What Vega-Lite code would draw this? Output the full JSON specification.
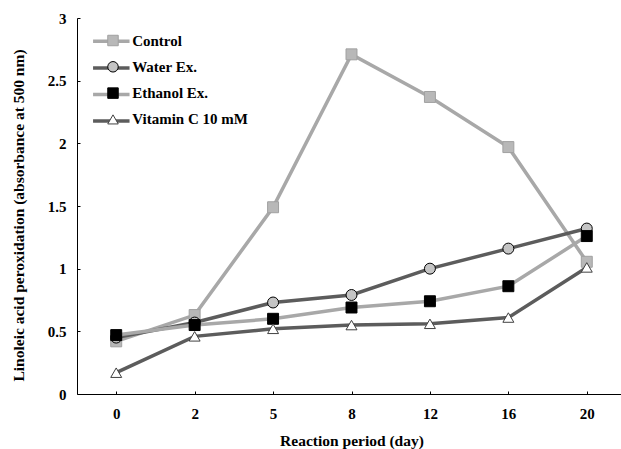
{
  "$schema": "https://vega.github.io/schema/vega-lite/v6.json",
  "width": 549,
  "height": 376,
  "autosize": "none",
  "padding": {"left": 77, "top": 18, "right": -5, "bottom": 55},
  "background": "white",
  "config": {
    "view": {"stroke": null},
    "font": "Liberation Serif",
    "axis": {"grid": false, "domainColor": "black", "tickColor": "black", "labelColor": "black", "titleColor": "black", "labelFont": "Liberation Serif", "titleFont": "Liberation Serif", "labelFontWeight": "bold", "titleFontWeight": "bold", "labelFontSize": 15, "titleFontSize": 15.5, "domainWidth": 1, "tickWidth": 1},
    "legend": {"padding": 0, "labelFont": "Liberation Serif", "labelFontWeight": "bold", "labelFontSize": 15, "labelColor": "black"}
  },
  "data": {
    "values": [
      {"day": "0", "series": "Control", "value": 0.42},
      {"day": "2", "series": "Control", "value": 0.63},
      {"day": "5", "series": "Control", "value": 1.49},
      {"day": "8", "series": "Control", "value": 2.71},
      {"day": "12", "series": "Control", "value": 2.37},
      {"day": "16", "series": "Control", "value": 1.97},
      {"day": "20", "series": "Control", "value": 1.055},
      {"day": "0", "series": "Water Ex.", "value": 0.45},
      {"day": "2", "series": "Water Ex.", "value": 0.57},
      {"day": "5", "series": "Water Ex.", "value": 0.73},
      {"day": "8", "series": "Water Ex.", "value": 0.79},
      {"day": "12", "series": "Water Ex.", "value": 1.0},
      {"day": "16", "series": "Water Ex.", "value": 1.16},
      {"day": "20", "series": "Water Ex.", "value": 1.32},
      {"day": "0", "series": "Ethanol Ex.", "value": 0.47},
      {"day": "2", "series": "Ethanol Ex.", "value": 0.55},
      {"day": "5", "series": "Ethanol Ex.", "value": 0.6},
      {"day": "8", "series": "Ethanol Ex.", "value": 0.69},
      {"day": "12", "series": "Ethanol Ex.", "value": 0.74},
      {"day": "16", "series": "Ethanol Ex.", "value": 0.86},
      {"day": "20", "series": "Ethanol Ex.", "value": 1.26},
      {"day": "0", "series": "Vitamin C 10 mM", "value": 0.17},
      {"day": "2", "series": "Vitamin C 10 mM", "value": 0.46},
      {"day": "5", "series": "Vitamin C 10 mM", "value": 0.52},
      {"day": "8", "series": "Vitamin C 10 mM", "value": 0.55},
      {"day": "12", "series": "Vitamin C 10 mM", "value": 0.56},
      {"day": "16", "series": "Vitamin C 10 mM", "value": 0.61},
      {"day": "20", "series": "Vitamin C 10 mM", "value": 1.01}
    ]
  },
  "encoding": {
    "x": {"field": "day", "type": "ordinal", "sort": ["0", "2", "5", "8", "12", "16", "20"], "scale": {"type": "point", "padding": 0.5}, "axis": {"title": "Reaction period (day)", "labelAngle": 0, "tickSize": -3, "labelPadding": 15, "titlePadding": 12}},
    "y": {"field": "value", "type": "quantitative", "scale": {"domain": [0, 3], "nice": false}, "axis": {"title": "Linoleic acid peroxidation (absorbance at 500 nm)", "values": [0, 0.5, 1, 1.5, 2, 2.5, 3], "format": "~g", "tickSize": -3, "labelPadding": 14, "titlePadding": 21, "titleY": 197}}
  },
  "layer": [
    {
      "mark": {"type": "line", "strokeWidth": 3.5},
      "encoding": {
        "color": {"field": "series", "type": "nominal",
          "sort": ["Control", "Water Ex.", "Ethanol Ex.", "Vitamin C 10 mM"],
          "scale": {"range": ["#a8a8a8", "#5c5c5c", "#a8a8a8", "#5c5c5c"]},
          "legend": {"title": null, "orient": "none", "legendX": 20.3, "legendY": 9.3, "symbolType": "M-1.52,0H1.52", "symbolSize": 576, "symbolStrokeWidth": 3.5, "symbolFillColor": "transparent", "labelColor": "transparent", "rowPadding": 4.6, "labelOffset": 2}}
      }
    },
    {
      "mark": {"type": "point", "filled": true, "opacity": 1, "strokeWidth": 1, "size": 120},
      "encoding": {
        "fill": {"field": "series", "type": "nominal",
          "scale": {"domain": ["Control", "Water Ex.", "Ethanol Ex.", "Vitamin C 10 mM"], "range": ["#b8b8b8", "#c4c4c4", "#000000", "#ffffff"]},
          "legend": {"title": null, "orient": "top-left", "offset": 15.3, "symbolOffset": 13.5, "labelOffset": 11.7, "rowPadding": 10.3, "symbolSize": 110, "symbolStrokeWidth": 1, "symbolOpacity": 1}},
        "stroke": {"field": "series", "type": "nominal",
          "scale": {"domain": ["Control", "Water Ex.", "Ethanol Ex.", "Vitamin C 10 mM"], "range": ["#a0a0a0", "#000000", "#000000", "#404040"]},
          "legend": {"title": null, "orient": "top-left", "offset": 15.3, "symbolOffset": 13.5, "labelOffset": 11.7, "rowPadding": 10.3, "symbolSize": 110, "symbolStrokeWidth": 1, "symbolOpacity": 1}},
        "shape": {"field": "series", "type": "nominal",
          "scale": {"domain": ["Control", "Water Ex.", "Ethanol Ex.", "Vitamin C 10 mM"], "range": ["square", "circle", "square", "triangle-up"]},
          "legend": {"title": null, "orient": "top-left", "offset": 15.3, "symbolOffset": 13.5, "labelOffset": 11.7, "rowPadding": 10.3, "symbolSize": 110, "symbolStrokeWidth": 1, "symbolOpacity": 1}}
      }
    }
  ]
}
